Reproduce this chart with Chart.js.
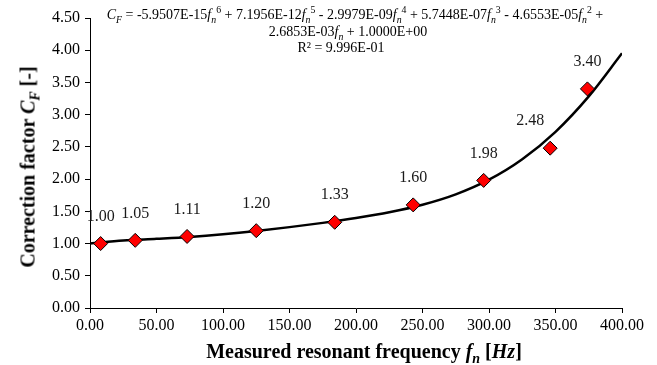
<!DOCTYPE html>
<html>
<head>
<meta charset="utf-8">
<script src="https://cdn.jsdelivr.net/npm/chart.js@4.4.1/dist/chart.umd.min.js"></script>
<style>
  body { margin: 0; background: #fff; }
  #wrap { position: relative; width: 657px; height: 365px; font-family: "Liberation Serif", "Times New Roman", serif; color: #000; }
  #wrap canvas { position: absolute; left: 0; top: 0; }
  .eq { position: absolute; white-space: nowrap; font-size: 14px; line-height: 16px; transform: translateX(-50%); }
  .eq sub, .eq sup, .ttl sub { font-size: 70%; line-height: 0; }
  .ttl { position: absolute; white-space: nowrap; font-weight: bold; font-size: 20px; }
  #xTitle { left: 364px; top: 340px; transform: translateX(-50%); }
  #yTitle { left: 28px; top: 167px; transform: translate(-50%, -50%) rotate(-90deg); }
</style>
</head>
<body>
<div id="wrap">
  <canvas id="cfChart" width="657" height="365"></canvas>
  <div class="eq" style="left:355px; top:7px"><i>C<sub>F</sub></i> = -5.9507E-15<i>f<sub>n</sub></i><sup>6</sup> + 7.1956E-12<i>f<sub>n</sub></i><sup>5</sup> - 2.9979E-09<i>f<sub>n</sub></i><sup>4</sup> + 5.7448E-07<i>f<sub>n</sub></i><sup>3</sup> - 4.6553E-05<i>f<sub>n</sub></i><sup>2</sup> +</div>
  <div class="eq" style="left:348px; top:24px">2.6853E-03<i>f<sub>n</sub></i> + 1.0000E+00</div>
  <div class="eq" style="left:341px; top:40px">R² = 9.996E-01</div>
  <div class="ttl" id="xTitle">Measured resonant frequency <i>f<sub>n</sub></i> [<i>Hz</i>]</div>
  <div class="ttl" id="yTitle">Correction factor <i>C<sub>F</sub></i> [-]</div>
</div>
<script>
// measured points
const freq = [8, 34, 73, 125, 184, 243, 296, 346, 374];
const corr = [1.00, 1.05, 1.11, 1.20, 1.33, 1.60, 1.98, 2.48, 3.40];

// trendline
const trendFreq = [0, 25, 50, 75, 100, 125, 150, 175, 200, 225, 250, 275, 300, 325, 350, 375, 400];
const trendCorr = [1.000, 1.046, 1.073, 1.103, 1.144, 1.195, 1.255, 1.321, 1.396, 1.485, 1.602, 1.763, 1.991, 2.308, 2.734, 3.284, 3.953];

const xTicks = [0, 50, 100, 150, 200, 250, 300, 350, 400];
const yTicks = [0, 0.5, 1, 1.5, 2, 2.5, 3, 3.5, 4, 4.5];

const FONT = "'Liberation Serif', 'Times New Roman', serif";

// label nudges (the 2.48 label sits left of its point)
const labelShift = { 7: -20 };

const pointLabels = {
  id: "pointLabels",
  afterDatasetsDraw(chart) {
    const ctx = chart.ctx;
    const meta = chart.getDatasetMeta(1);
    ctx.save();
    ctx.font = "16px " + FONT;
    ctx.fillStyle = "#1a1a1a";
    ctx.textAlign = "center";
    ctx.textBaseline = "middle";
    meta.data.forEach((pt, i) => {
      ctx.fillText(corr[i].toFixed(2), pt.x + (labelShift[i] || 0), pt.y - 27);
    });
    ctx.restore();
  }
};

const ctx = document.getElementById("cfChart").getContext("2d");

new Chart(ctx, {
  type: "scatter",
  data: {
    datasets: [
      {
        label: "Trend",
        data: trendFreq.map((f, i) => ({ x: f, y: trendCorr[i] })),
        showLine: true,
        borderColor: "#000",
        borderWidth: 2.5,
        pointRadius: 0,
        cubicInterpolationMode: "monotone",
        order: 2
      },
      {
        label: "Measured",
        data: freq.map((f, i) => ({ x: f, y: corr[i] })),
        pointStyle: "rectRot",
        pointRadius: 7,
        pointBackgroundColor: "#ff0000",
        pointBorderColor: "#000",
        pointBorderWidth: 1,
        order: 1
      }
    ]
  },
  options: {
    responsive: false,
    animation: false,
    layout: { padding: { left: 0, right: 35, top: 18, bottom: 0 } },
    plugins: { legend: { display: false }, tooltip: { enabled: false } },
    scales: {
      x: {
        type: "linear",
        min: 0,
        max: 400,
        afterBuildTicks: (s) => { s.ticks = xTicks.map(v => ({ value: v })); },
        afterFit: (s) => { s.height = 57; },
        grid: { drawOnChartArea: false, drawTicks: true, tickLength: 5, color: "#000" },
        border: { color: "#000", width: 1 },
        ticks: {
          color: "#000",
          padding: 3,
          font: { family: FONT, size: 16 },
          callback: (v) => Number(v).toFixed(2)
        }
      },
      y: {
        min: 0,
        max: 4.5,
        afterBuildTicks: (s) => { s.ticks = yTicks.map(v => ({ value: v })); },
        afterFit: (s) => { s.width = 90; },
        grid: { drawOnChartArea: false, drawTicks: true, tickLength: 5, color: "#000" },
        border: { color: "#000", width: 1 },
        ticks: {
          color: "#000",
          padding: 5,
          font: { family: FONT, size: 16 },
          callback: (v) => Number(v).toFixed(2)
        }
      }
    }
  },
  plugins: [pointLabels]
});
</script>
</body>
</html>
